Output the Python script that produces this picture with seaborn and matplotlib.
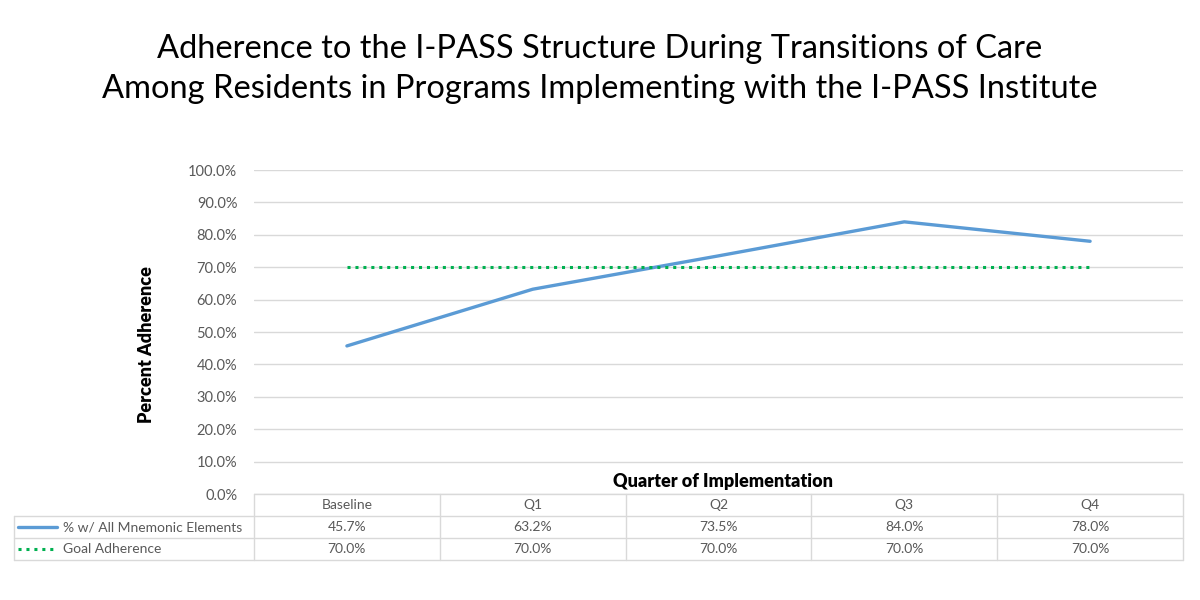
import matplotlib
matplotlib.use("Agg")
import matplotlib.pyplot as plt
import seaborn as sns
import pandas as pd
from matplotlib.lines import Line2D
from matplotlib.ticker import FuncFormatter

categories = ["Baseline", "Q1", "Q2", "Q3", "Q4"]
mnemonic = [45.7, 63.2, 73.5, 84.0, 78.0]
goal = [70.0, 70.0, 70.0, 70.0, 70.0]
series_names = ["% w/ All Mnemonic Elements", "Goal Adherence"]
title = ("Adherence to the I-PASS Structure During Transitions of Care\n"
         "Among Residents in Programs Implementing with the I-PASS Institute")

sns.set_theme(style="white")
plt.rcParams["font.family"] = ["Lato", "DejaVu Sans"]

BLUE = "#5b9bd5"
GREEN = "#00b050"
GRID = "#d9d9d9"
TXT = "#595959"

W, H = 1200, 600
fig = plt.figure(figsize=(12, 6), dpi=100)
x0, x1, ytop, ybot = 254, 1183, 170, 494
ax = fig.add_axes([x0 / W, (H - ybot) / H, (x1 - x0) / W, (ybot - ytop) / H])

df = pd.DataFrame({
    "pos": list(range(len(categories))) * 2,
    "value": mnemonic + goal,
    "series": [series_names[0]] * len(categories) + [series_names[1]] * len(categories),
})
sns.lineplot(data=df[df.series == series_names[0]], x="pos", y="value", ax=ax,
             color=BLUE, linewidth=2.4, legend=False)
sns.lineplot(data=df[df.series == series_names[1]], x="pos", y="value", ax=ax,
             color=GREEN, linewidth=2.2, linestyle=(0, (1, 1.6)), legend=False)

ax.set_xlim(-0.5, len(categories) - 0.5)
ax.set_ylim(0, 100)
ax.set_yticks(range(0, 101, 10))
ax.yaxis.set_major_formatter(FuncFormatter(lambda v, p: f"{v:.1f}%"))
ax.tick_params(axis="y", labelsize=10.5, labelcolor=TXT, length=0, pad=12)
ax.set_xticks([])
ax.set_xlabel("")
ax.set_ylabel("")
ax.grid(axis="y", color=GRID, linewidth=1)
for s in ax.spines.values():
    s.set_visible(False)

# Titles and axis labels
fig.text(0.5, 1 - 69 / H, title, ha="center", va="center", fontsize=23.5,
         color="#000000", linespacing=1.4)
fig.text(147 / W, 1 - 345 / H, "Percent Adherence", rotation=90, ha="center",
         va="center", fontsize=13, fontweight="heavy", color="#000000")
fig.text(723 / W, 1 - 481 / H, "Quarter of Implementation", ha="center",
         va="center", fontsize=13, fontweight="heavy", color="#000000")

# Data table
colw = (x1 - x0) / len(categories)
trans = fig.transFigure

def fx(px):
    return px / W

def fy(py):
    return 1 - py / H

rows_top = [494, 516, 538, 560]
left_px = 14
fig.add_artist(Line2D([fx(x0), fx(x1)], [fy(494), fy(494)], color=GRID, lw=1, transform=trans))
for yy in rows_top[1:]:
    fig.add_artist(Line2D([fx(left_px), fx(x1)], [fy(yy), fy(yy)], color=GRID, lw=1, transform=trans))
for i in range(len(categories) + 1):
    xx = x0 + i * colw
    fig.add_artist(Line2D([fx(xx), fx(xx)], [fy(494), fy(560)], color=GRID, lw=1, transform=trans))
fig.add_artist(Line2D([fx(left_px), fx(left_px)], [fy(516), fy(560)], color=GRID, lw=1, transform=trans))

for i, cat in enumerate(categories):
    cx = x0 + (i + 0.5) * colw
    fig.text(fx(cx), fy(505), cat, ha="center", va="center", fontsize=10, color=TXT)
    fig.text(fx(cx), fy(527), f"{mnemonic[i]:.1f}%", ha="center", va="center", fontsize=10, color=TXT)
    fig.text(fx(cx), fy(549), f"{goal[i]:.1f}%", ha="center", va="center", fontsize=10, color=TXT)

fig.add_artist(Line2D([fx(18), fx(57)], [fy(527), fy(527)], color=BLUE, lw=2.4, transform=trans))
fig.add_artist(Line2D([fx(18), fx(57)], [fy(549), fy(549)], color=GREEN, lw=2.2,
                      linestyle=(0, (1, 1.6)), transform=trans))
fig.text(fx(63), fy(527), series_names[0], ha="left", va="center", fontsize=10, color=TXT)
fig.text(fx(63), fy(549), series_names[1], ha="left", va="center", fontsize=10, color=TXT)

fig.savefig("out.png", dpi=100, facecolor="white")
